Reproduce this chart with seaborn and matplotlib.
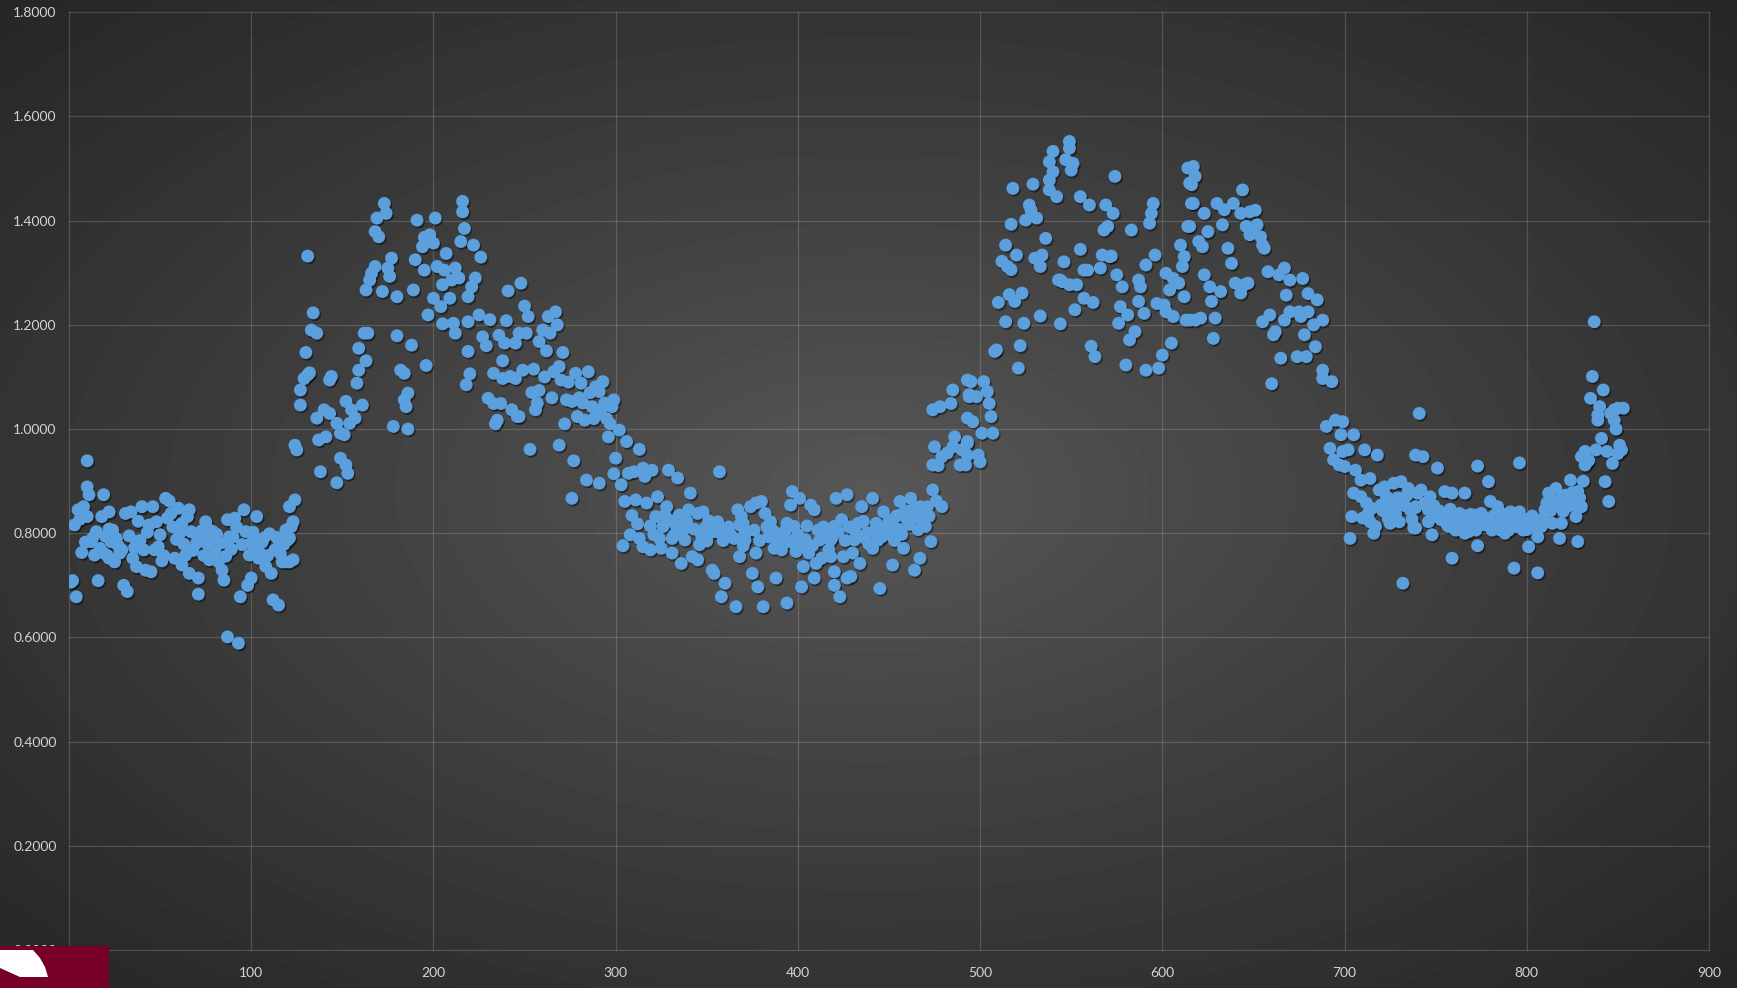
import matplotlib
matplotlib.use("Agg")
import matplotlib.pyplot as plt
import matplotlib.patheffects as pe
from matplotlib.patches import Rectangle, Polygon
import numpy as np
import seaborn as sns

# (x, y) pairs, grouped by region
plateau_left = [
    (2, 0.709), (4, 0.678), (3, 0.816), (8, 0.851), (10, 0.832), (10, 0.889), (11, 0.874), (10, 0.939),
    (7, 0.763), (12, 0.784), (13, 0.791), (16, 0.709), (18, 0.832), (19, 0.874), (22, 0.841), (22, 0.808),
    (19, 0.762), (22, 0.752), (25, 0.745), (26, 0.790), (27, 0.776), (28, 0.762), (30, 0.700), (32, 0.688),
    (31, 0.838), (34, 0.841), (35, 0.752), (37, 0.736), (37, 0.784), (40, 0.851), (42, 0.729), (44, 0.816),
    (45, 0.726), (46, 0.851), (47, 0.768), (48, 0.822), (49, 0.774), (51, 0.747), (53, 0.867), (55, 0.862),
    (56, 0.838), (58, 0.752), (60, 0.848), (62, 0.739), (62, 0.819), (66, 0.845), (66, 0.723), (69, 0.800),
    (70, 0.781), (71, 0.714), (71, 0.683), (75, 0.822), (77, 0.806), (77, 0.749), (78, 0.790), (82, 0.781),
    (82, 0.745), (84, 0.729), (85, 0.710), (87, 0.781), (87, 0.601), (87, 0.826), (90, 0.793), (91, 0.829),
    (93, 0.589), (94, 0.678), (96, 0.845), (97, 0.803), (98, 0.700), (100, 0.781), (100, 0.714), (103, 0.771),
    (103, 0.832), (104, 0.752), (107, 0.791), (108, 0.736), (111, 0.723), (112, 0.672), (115, 0.662),
    (115, 0.774), (117, 0.745), (119, 0.806), (119, 0.745), (120, 0.787), (121, 0.745), (121, 0.851),
    (122, 0.813), (124, 0.864),
    (1, 0.706), (5, 0.845), (6, 0.827), (9, 0.783), (14, 0.758), (15, 0.803), (17, 0.771), (20, 0.794),
    (21, 0.757), (23, 0.784), (24, 0.806), (29, 0.768), (33, 0.795), (36, 0.772), (38, 0.823), (39, 0.786),
    (41, 0.768), (43, 0.802), (50, 0.797), (52, 0.757), (54, 0.829), (57, 0.812), (59, 0.788), (61, 0.801),
    (63, 0.779), (64, 0.758), (65, 0.832), (67, 0.803), (68, 0.767), (72, 0.792), (73, 0.805), (74, 0.757),
    (76, 0.779), (79, 0.803), (80, 0.767), (81, 0.798), (83, 0.781), (86, 0.756), (88, 0.793), (89, 0.769),
    (92, 0.812), (95, 0.778), (99, 0.758), (101, 0.802), (102, 0.788), (105, 0.761), (106, 0.783),
    (109, 0.757), (110, 0.799), (113, 0.768), (114, 0.792), (116, 0.761), (118, 0.779), (123, 0.822),
]

first_rise = [
    (121, 0.791), (123, 0.749), (124, 0.969), (125, 0.960), (130, 1.147), (127, 1.075), (127, 1.046),
    (129, 1.097), (131, 1.104), (132, 1.108), (131, 1.332), (134, 1.223), (133, 1.190), (136, 1.184),
    (136, 1.021), (140, 1.037), (143, 1.030), (147, 1.011), (138, 0.918), (147, 0.897), (137, 0.979),
    (141, 0.985), (149, 0.992), (151, 0.989), (143, 1.094), (144, 1.101), (149, 0.944), (152, 0.931),
    (153, 0.915), (152, 1.053), (155, 1.037), (157, 1.021), (161, 1.046), (154, 1.011), (158, 1.088),
    (159, 1.113), (163, 1.131), (159, 1.155), (162, 1.184), (164, 1.184), (163, 1.267), (165, 1.286),
    (166, 1.299), (168, 1.312), (177, 1.328), (175, 1.309), (176, 1.293), (168, 1.379), (170, 1.369),
    (169, 1.405), (173, 1.433), (174, 1.414), (172, 1.264), (180, 1.254), (189, 1.267), (180, 1.179),
    (182, 1.113), (184, 1.107), (188, 1.161), (196, 1.122), (186, 1.069), (184, 1.056), (185, 1.043),
    (178, 1.005), (186, 1.000), (191, 1.401), (201, 1.405), (190, 1.325), (194, 1.350), (195, 1.305),
    (195, 1.368), (198, 1.373), (200, 1.357), (202, 1.312), (207, 1.337), (206, 1.305), (212, 1.309),
    (214, 1.290), (210, 1.286), (205, 1.277), (200, 1.251), (204, 1.235), (209, 1.251), (197, 1.219),
    (205, 1.202), (211, 1.203), (212, 1.184), (216, 1.437), (216, 1.417), (217, 1.385), (215, 1.360),
    (222, 1.353), (226, 1.330), (223, 1.290), (221, 1.273), (219, 1.254), (219, 1.206), (225, 1.219),
    (227, 1.177), (219, 1.149), (220, 1.106), (218, 1.085), (240, 1.208), (238, 1.131), (233, 1.107),
    (238, 1.097), (242, 1.101), (230, 1.059), (233, 1.049), (237, 1.049), (235, 1.017), (234, 1.010),
    (243, 1.037), (246, 1.024), (229, 1.160), (231, 1.210), (236, 1.180), (239, 1.165), (241, 1.265),
]

first_fall = [
    (248, 1.280), (250, 1.236), (252, 1.216), (247, 1.184), (251, 1.184), (245, 1.165), (258, 1.168),
    (260, 1.190), (263, 1.216), (267, 1.225), (268, 1.200), (264, 1.184), (271, 1.147), (249, 1.113),
    (255, 1.115), (245, 1.097), (258, 1.074), (266, 1.110), (269, 1.120), (270, 1.094), (247, 1.024),
    (256, 1.037), (273, 1.056), (276, 1.053), (272, 1.010), (253, 0.961), (269, 0.969), (277, 0.939),
    (276, 0.867), (278, 1.107), (281, 1.088), (285, 1.110), (289, 1.081), (293, 1.091), (291, 1.072),
    (299, 1.056), (279, 1.024), (283, 1.017), (287, 1.043), (292, 1.037), (298, 1.043), (284, 0.902),
    (291, 0.896), (296, 0.985), (302, 0.998), (306, 0.976), (313, 0.961), (300, 0.944), (299, 0.914),
    (303, 0.893), (307, 0.915), (310, 0.918), (315, 0.925), (320, 0.921), (316, 0.909), (329, 0.921),
    (334, 0.906), (341, 0.877), (357, 0.918), (305, 0.861), (311, 0.864), (317, 0.858), (323, 0.870),
    (328, 0.851), (319, 0.814), (322, 0.832), (327, 0.835), (333, 0.816), (337, 0.806), (335, 0.835),
    (340, 0.845), (345, 0.838), (348, 0.841), (304, 0.776), (313, 0.790), (315, 0.774), (319, 0.768),
    (324, 0.790), (331, 0.790), (325, 0.771), (331, 0.762), (336, 0.742), (342, 0.755), (345, 0.749),
    (346, 0.778), (349, 0.810), (355, 0.803), (360, 0.806), (365, 0.790), (368, 0.816), (371, 0.800),
    (353, 0.729), (354, 0.723), (360, 0.704), (358, 0.678), (366, 0.659), (367, 0.845), (368, 0.755),
    (308, 0.797), (309, 0.834), (312, 0.818), (321, 0.797), (326, 0.813), (330, 0.824), (332, 0.796),
    (338, 0.787), (339, 0.823), (343, 0.808), (347, 0.797), (350, 0.785), (351, 0.824), (352, 0.801),
    (356, 0.822), (359, 0.786), (362, 0.812), (363, 0.797), (369, 0.832), (370, 0.776),
    (254, 1.070), (257, 1.050), (261, 1.100), (262, 1.150), (265, 1.060), (274, 1.090), (280, 1.060),
    (282, 1.050), (286, 1.070), (288, 1.020), (290, 1.030), (294, 1.050), (295, 1.020), (297, 1.010),
]

trough = [
    (374, 0.851), (380, 0.861), (377, 0.858), (397, 0.880), (401, 0.867), (396, 0.854), (407, 0.854),
    (409, 0.845), (421, 0.867), (427, 0.874), (435, 0.851), (441, 0.867), (456, 0.861), (462, 0.867),
    (467, 0.851), (471, 0.851), (479, 0.851), (474, 0.883), (370, 0.819), (376, 0.806), (371, 0.787),
    (382, 0.838), (385, 0.822), (386, 0.806), (388, 0.800), (392, 0.793), (394, 0.819), (384, 0.793),
    (387, 0.771), (391, 0.768), (399, 0.790), (399, 0.774), (403, 0.774), (406, 0.762), (399, 0.765),
    (411, 0.806), (415, 0.793), (418, 0.787), (420, 0.813), (424, 0.826), (412, 0.787), (431, 0.813),
    (433, 0.819), (431, 0.787), (437, 0.790), (441, 0.771), (443, 0.819), (447, 0.841), (449, 0.806),
    (452, 0.826), (446, 0.793), (456, 0.835), (460, 0.826), (463, 0.845), (469, 0.838), (470, 0.813),
    (377, 0.762), (375, 0.723), (378, 0.697), (388, 0.714), (381, 0.659), (394, 0.666), (402, 0.697),
    (409, 0.714), (403, 0.736), (410, 0.742), (413, 0.752), (418, 0.755), (420, 0.726), (420, 0.700),
    (427, 0.714), (429, 0.717), (423, 0.678), (425, 0.755), (430, 0.762), (434, 0.742), (445, 0.694),
    (452, 0.739), (458, 0.771), (464, 0.729), (467, 0.752), (473, 0.784),
    (372, 0.803), (379, 0.786), (383, 0.812), (389, 0.778), (393, 0.804), (395, 0.784), (398, 0.813),
    (400, 0.797), (404, 0.788), (405, 0.814), (408, 0.776), (414, 0.812), (416, 0.798), (417, 0.768),
    (419, 0.793), (422, 0.803), (426, 0.786), (428, 0.812), (432, 0.798), (436, 0.823), (438, 0.801),
    (439, 0.779), (442, 0.804), (444, 0.787), (448, 0.812), (450, 0.823), (451, 0.797), (453, 0.786),
    (454, 0.833), (455, 0.808), (457, 0.798), (459, 0.843), (461, 0.817), (465, 0.832), (466, 0.807),
    (468, 0.824), (472, 0.833), (476, 0.862), (477, 0.930),
]

second_rise = [
    (474, 1.037), (478, 1.043), (484, 1.049), (485, 1.075), (493, 1.094), (494, 1.062), (493, 1.021),
    (475, 0.966), (474, 0.931), (479, 0.947), (482, 0.954), (486, 0.985), (490, 0.960), (489, 0.931),
    (493, 0.973), (485, 0.966),
    (495, 1.091), (502, 1.091), (494, 1.066), (498, 1.062), (504, 1.072), (505, 1.049), (506, 1.024),
    (496, 1.014), (501, 0.992), (507, 0.992), (493, 0.976), (493, 0.950), (499, 0.950), (500, 0.937),
    (492, 0.931),
    (509, 1.152), (508, 1.149), (522, 1.160), (521, 1.117), (514, 1.206), (524, 1.203), (510, 1.243),
    (516, 1.258), (519, 1.245), (523, 1.261), (533, 1.217), (544, 1.202), (552, 1.229), (557, 1.251),
    (562, 1.243), (549, 1.277), (543, 1.286), (545, 1.283),
    (512, 1.322), (517, 1.306), (515, 1.312), (520, 1.334), (514, 1.353), (530, 1.328), (534, 1.334),
    (533, 1.312), (536, 1.366), (528, 1.420), (531, 1.405), (527, 1.430), (525, 1.401), (517, 1.393),
    (518, 1.462), (529, 1.470),
    (540, 1.533), (538, 1.513), (540, 1.494), (538, 1.478), (538, 1.459), (542, 1.446), (547, 1.517),
    (549, 1.539), (549, 1.552), (551, 1.510), (550, 1.497),
    (546, 1.321), (544, 1.286), (553, 1.277), (555, 1.345), (557, 1.305), (559, 1.305), (567, 1.334),
    (566, 1.309), (571, 1.331), (572, 1.332), (575, 1.296), (578, 1.273),
    (555, 1.446), (560, 1.430), (569, 1.430), (573, 1.414), (574, 1.485), (568, 1.382), (583, 1.382),
    (570, 1.389), (561, 1.159), (563, 1.139),
]

second_fall = [
    (587, 1.286), (588, 1.273), (587, 1.245), (577, 1.235), (581, 1.219), (590, 1.222), (576, 1.203),
    (585, 1.187), (582, 1.171), (580, 1.123), (591, 1.113), (598, 1.117), (600, 1.142), (605, 1.165),
    (591, 1.315), (596, 1.334), (595, 1.433), (594, 1.414), (593, 1.395),
    (602, 1.299), (606, 1.289), (609, 1.280), (604, 1.267), (611, 1.312), (612, 1.331), (610, 1.353),
    (601, 1.238), (597, 1.241), (602, 1.225), (606, 1.216), (613, 1.209), (612, 1.254), (618, 1.209),
    (614, 1.389), (616, 1.433), (615, 1.472), (614, 1.501),
    (617, 1.504), (618, 1.485), (616, 1.469), (644, 1.459),
    (617, 1.433), (623, 1.414), (630, 1.433), (634, 1.421), (639, 1.433), (643, 1.414), (648, 1.417),
    (651, 1.420), (633, 1.392), (625, 1.379), (646, 1.389), (649, 1.382), (652, 1.392), (648, 1.373),
    (654, 1.369), (655, 1.353), (656, 1.347),
    (615, 1.389), (620, 1.360), (622, 1.350), (636, 1.347), (638, 1.318), (623, 1.296), (626, 1.273),
    (632, 1.264), (640, 1.280), (645, 1.277), (647, 1.280), (643, 1.261), (627, 1.245), (629, 1.213),
    (621, 1.213), (615, 1.209), (628, 1.174),
    (658, 1.302), (664, 1.296), (667, 1.309), (670, 1.286), (677, 1.289), (668, 1.257), (680, 1.260),
    (685, 1.248), (655, 1.206), (659, 1.219), (662, 1.187), (661, 1.181), (667, 1.209), (670, 1.225),
    (675, 1.225), (676, 1.216), (680, 1.225), (683, 1.200), (688, 1.209), (678, 1.181), (684, 1.158),
    (674, 1.139), (679, 1.139), (665, 1.136), (660, 1.087), (688, 1.113), (688, 1.097), (693, 1.091),
    (690, 1.005), (695, 1.017), (699, 1.014), (698, 0.989), (705, 0.989), (692, 0.963), (699, 0.957),
    (702, 0.960), (711, 0.960), (718, 0.950), (694, 0.941), (697, 0.931), (700, 0.928), (706, 0.921),
    (709, 0.902), (714, 0.905), (705, 0.877), (709, 0.870), (712, 0.858), (715, 0.848), (719, 0.883),
    (722, 0.889), (727, 0.896), (731, 0.899), (735, 0.886), (740, 0.877), (725, 0.864), (731, 0.858),
    (736, 0.845), (720, 0.854), (723, 0.870),
    (704, 0.832), (710, 0.829), (714, 0.822), (717, 0.813), (716, 0.800), (725, 0.819), (730, 0.822),
    (738, 0.810), (703, 0.790), (732, 0.704),
    (713, 0.838), (721, 0.843), (724, 0.828), (726, 0.852), (728, 0.837), (729, 0.868), (733, 0.853),
    (734, 0.872), (737, 0.827), (739, 0.849),
]

plateau_right = [
    (741, 1.030), (837, 1.206), (836, 1.101), (842, 1.075), (835, 1.059), (840, 1.043), (839, 1.027),
    (839, 1.017), (848, 1.037), (850, 1.040), (848, 1.017),
    (841, 0.982), (844, 0.957), (851, 0.969), (850, 0.953), (847, 0.934), (832, 0.957), (830, 0.947),
    (833, 0.937), (832, 0.931), (843, 0.899), (845, 0.861),
    (739, 0.950), (743, 0.947), (751, 0.925), (773, 0.929), (779, 0.899), (796, 0.935), (766, 0.877),
    (742, 0.883), (747, 0.870), (755, 0.880), (759, 0.877), (739, 0.851), (746, 0.845), (750, 0.832),
    (754, 0.838), (759, 0.832), (763, 0.838),
    (739, 0.810), (746, 0.822), (753, 0.826), (757, 0.813), (761, 0.806), (766, 0.800), (771, 0.835),
    (775, 0.838), (780, 0.861), (784, 0.851), (786, 0.838), (777, 0.816), (781, 0.806), (788, 0.800),
    (791, 0.841), (796, 0.841), (794, 0.813), (798, 0.806), (802, 0.829), (804, 0.813), (806, 0.793),
    (801, 0.774), (810, 0.845), (812, 0.877), (816, 0.886), (819, 0.867), (824, 0.902), (828, 0.880),
    (830, 0.851), (827, 0.832), (822, 0.851), (819, 0.819), (818, 0.790), (814, 0.819), (808, 0.813),
    (828, 0.784), (773, 0.776), (748, 0.797), (759, 0.752), (793, 0.733), (806, 0.724),
    (744, 0.858), (749, 0.853), (752, 0.843), (756, 0.818), (758, 0.846), (762, 0.823), (764, 0.807),
    (765, 0.834), (767, 0.818), (768, 0.803), (769, 0.836), (770, 0.816), (772, 0.806), (774, 0.822),
    (776, 0.832), (778, 0.817), (782, 0.834), (783, 0.821), (785, 0.807), (787, 0.828), (789, 0.819),
    (790, 0.806), (792, 0.823), (797, 0.829), (799, 0.818), (800, 0.807), (803, 0.833), (805, 0.812),
    (807, 0.823), (809, 0.828), (811, 0.858), (813, 0.843), (815, 0.853), (817, 0.862), (820, 0.842),
    (821, 0.873), (823, 0.864), (825, 0.878), (826, 0.853), (829, 0.868), (831, 0.900), (834, 0.940),
    (838, 0.960), (846, 1.030), (849, 1.000), (852, 0.960), (853, 1.040),
]

x_ticks = list(range(0, 1000, 100))
y_ticks = [0.0, 0.2, 0.4, 0.6, 0.8, 1.0, 1.2, 1.4, 1.6, 1.8]

points = plateau_left + first_rise + first_fall + trough + second_rise + second_fall + plateau_right
xs = [p[0] for p in points]
ys = [p[1] for p in points]

W, H = 1737, 988
fig = plt.figure(figsize=(W / 100, H / 100), dpi=100)

# dark radial gradient behind everything
bg = fig.add_axes([0, 0, 1, 1], zorder=-1)
gx, gy = np.meshgrid(np.linspace(-1, 1, 400), np.linspace(-1, 1, 230))
r = np.clip(np.sqrt(gx ** 2 + gy ** 2) / np.sqrt(2), 0, 1)
shade = (88 - 50 * r ** 0.9) / 255.0
bg.imshow(shade, cmap="gray", vmin=0, vmax=1, aspect="auto", extent=[0, 1, 0, 1],
          interpolation="bicubic")
bg.set_axis_off()

ax = fig.add_axes([69 / W, 38 / H, 1640 / W, 937.7 / H])
ax.set_facecolor("none")

sns.scatterplot(x=xs, y=ys, ax=ax, color="#5b9fdc", s=86, linewidth=0, legend=False, zorder=3)
ax.collections[0].set_path_effects([
    pe.SimplePatchShadow(offset=(1, -1.3), shadow_rgbFace="black", alpha=0.45),
    pe.Normal(),
])

ax.set_xlim(0, 900)
ax.set_ylim(0, 1.8)
ax.set_xticks(x_ticks)
ax.set_yticks(y_ticks)
ax.set_yticklabels([f"{v:.4f}" for v in y_ticks])
ax.set_xlabel("")
ax.set_ylabel("")

ax.grid(True, color="white", alpha=0.16, linewidth=0.9)
ax.set_axisbelow(True)
for line in ax.get_xgridlines() + ax.get_ygridlines():
    line.set_clip_on(False)
for sp in ax.spines.values():
    sp.set_visible(False)

ax.tick_params(axis="both", length=0, labelcolor="#d4d4d4", labelsize=10)
ax.tick_params(axis="y", pad=9)
ax.tick_params(axis="x", pad=12)
for lbl in ax.get_xticklabels() + ax.get_yticklabels():
    lbl.set_fontfamily("Lato")

# badge in the lower-left corner
fig.patches.append(Rectangle((0, 0), 109 / W, 42 / H, transform=fig.transFigure,
                             facecolor="#76002a", edgecolor="none", zorder=5))
badge = [(0, 38), (33, 38), (40, 30), (45, 21), (48, 11), (20, 11), (0, 20)]
fig.patches.append(Polygon([(px / W, py / H) for px, py in badge], closed=True,
                           transform=fig.transFigure, facecolor="white",
                           edgecolor="none", zorder=6))

fig.savefig("out.png", dpi=100)
